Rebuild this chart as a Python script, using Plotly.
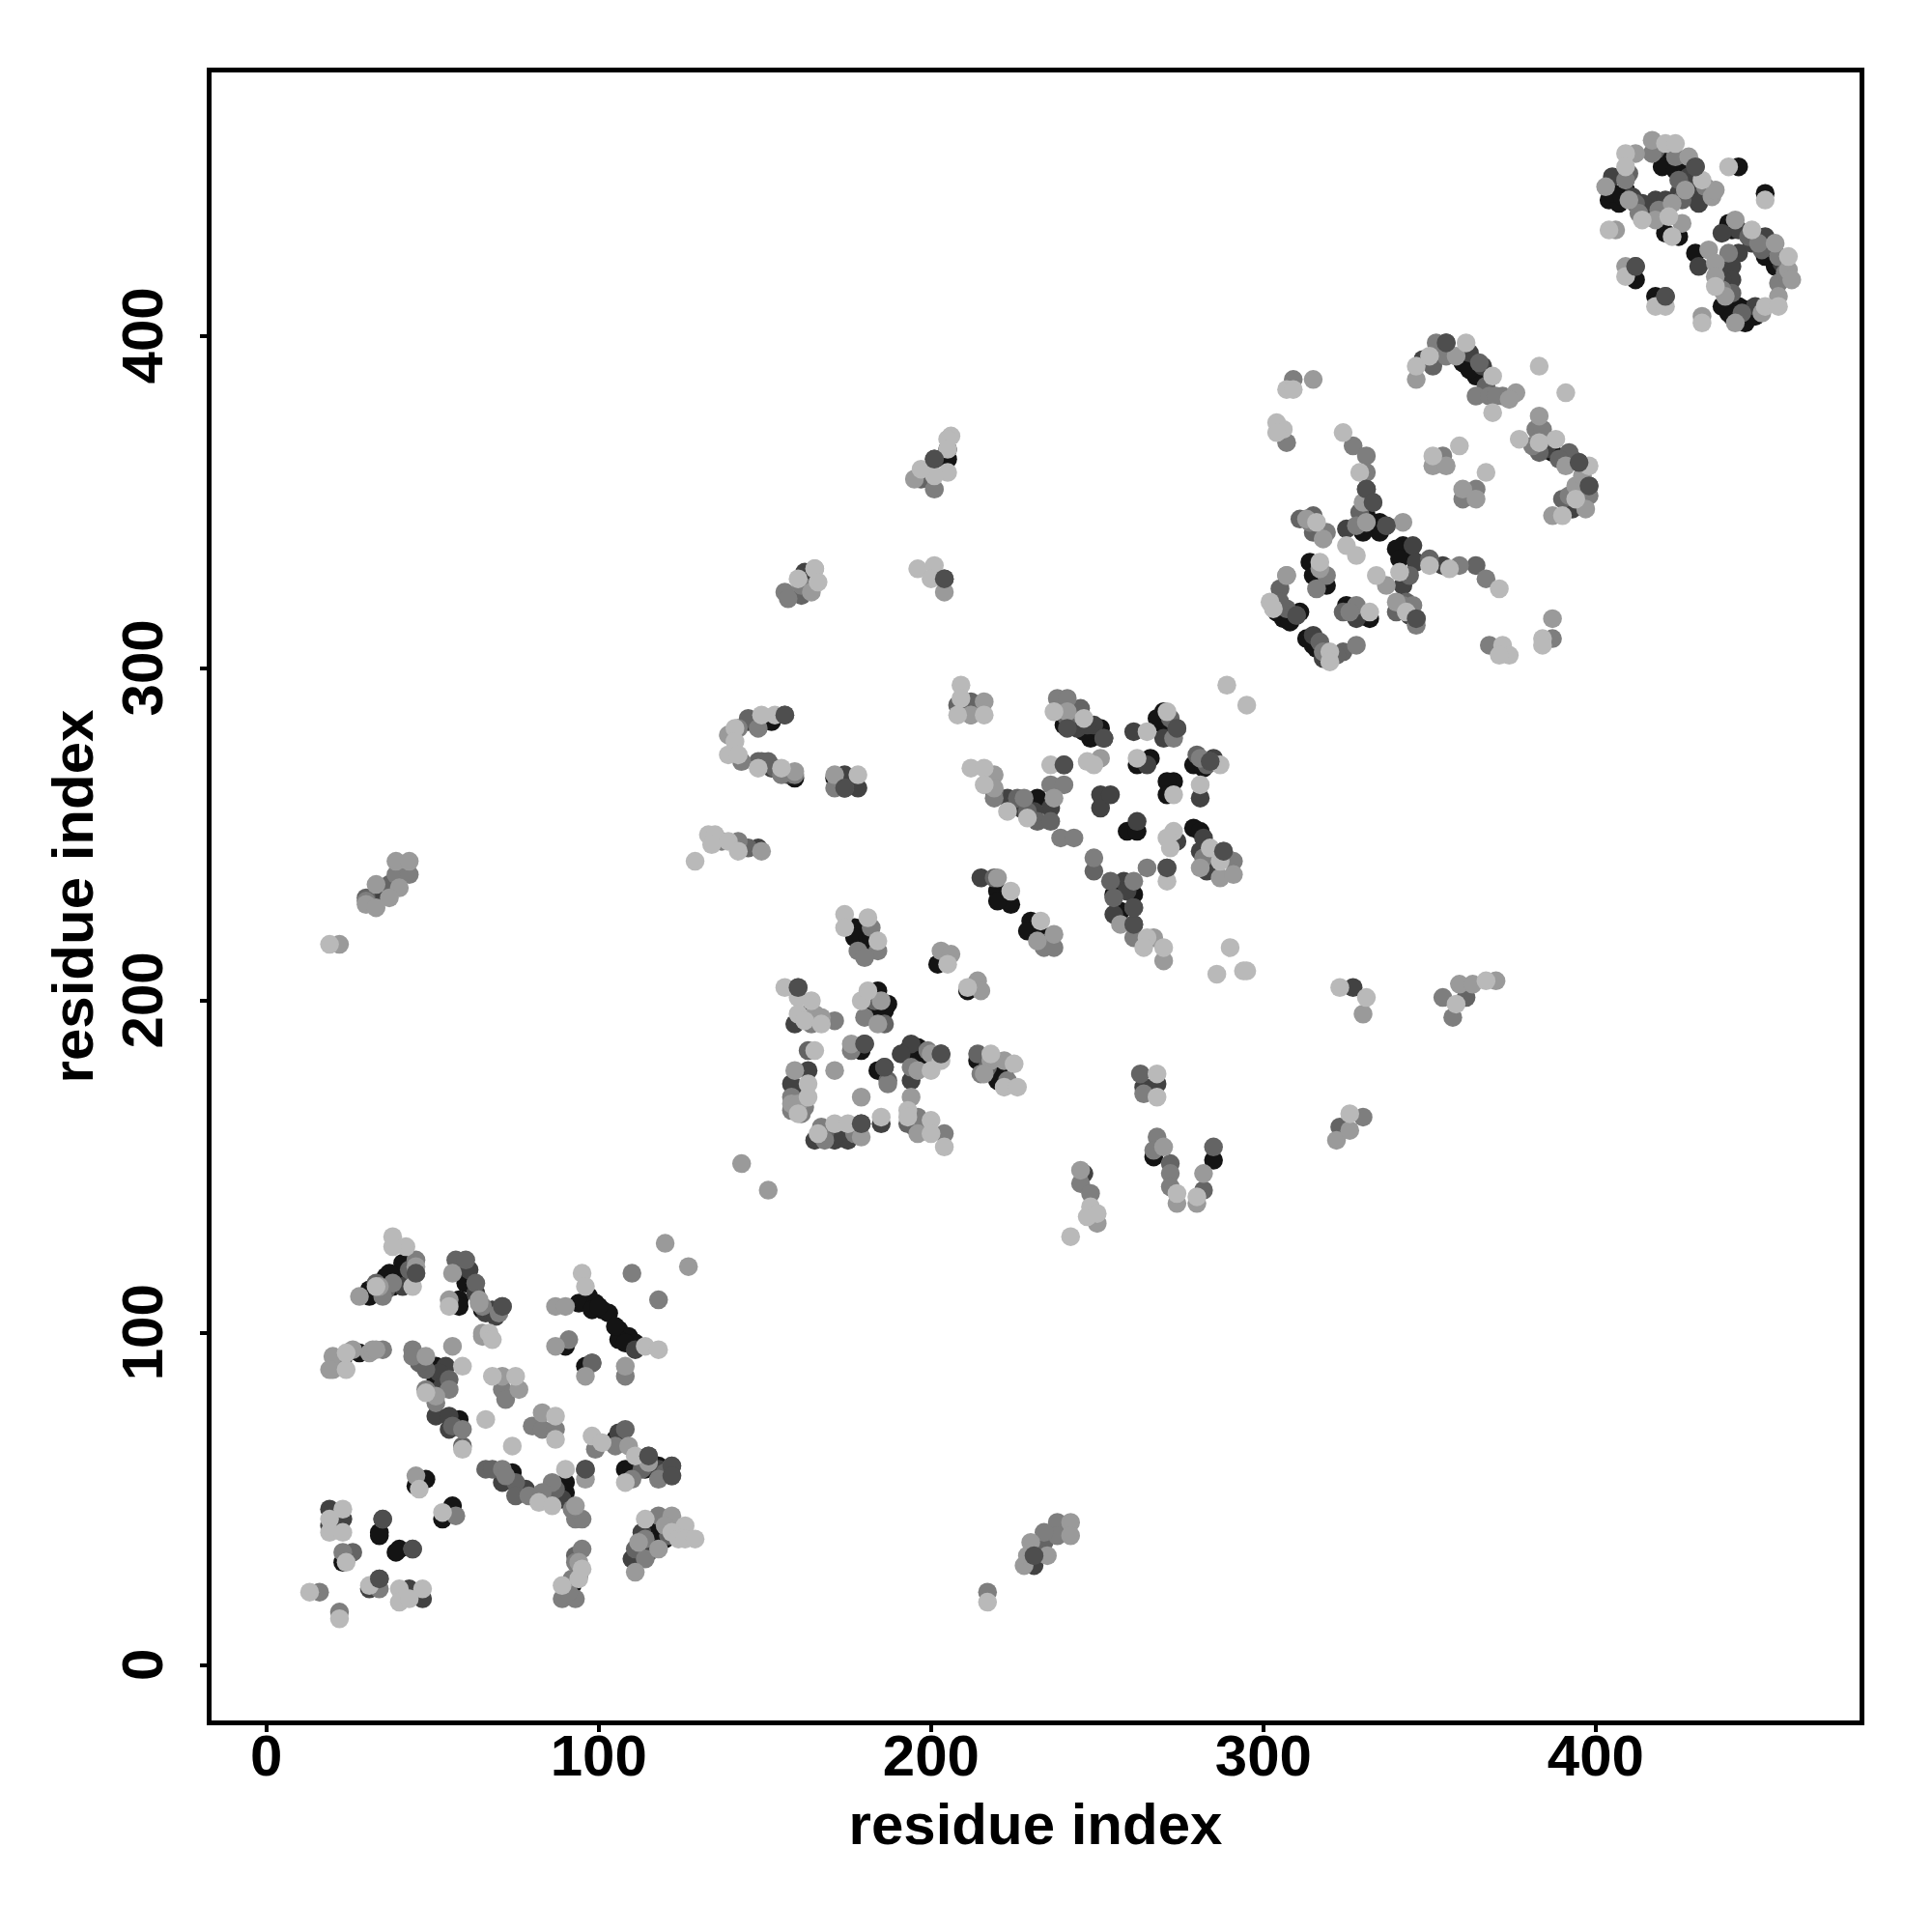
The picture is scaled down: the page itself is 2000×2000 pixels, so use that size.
import plotly.graph_objects as go

# residue-contact points, grouped by grey level: (residue index x, residue index y)
black = [(41,121),(40,116),(36,117),(31,113),(31,111),(60,115),(58,110),(58,108),(65,107),(51,90),(51,86),(58,74),(28,94),
 (85,51),(90,55),(90,52),(74,58),(108,59),(110,59),(105,68),(114,59),(118,60),(118,41),(116,40),(120,38),(113,35),(92,24),(94,27),
 (48,56),(45,54),(56,48),(53,44),(23,31),(34,40),(34,39),(40,35),(39,34),(97,111),(94,109),(99,109),(101,107),(98,107),(106,101),(109,99),(106,98),(111,97),(90,96),(96,90),
 (177,222),(177,219),(181,215),(181,219),(202,211),(211,203),(179,185),(184,179),(184,203),(183,198),(186,197),(185,195),(196,186),(193,185),(214,182),(218,179),(222,178),
 (220,233),(224,229),(220,230),(230,224),(229,221),(233,220),(240,283),(251,282),(248,279),(270,287),(270,283),(262,271),(266,273),(273,266),(271,266),(271,262),(279,271),
 (259,251),(262,251),(279,252),(281,251),(232,261),(261,232),(257,227),(267,153),(285,152),
 (335,344),(333,343),(335,341),(314,332),(315,328),(319,325),(304,317),(306,315),(325,319),(332,315),(315,307),(342,337),(344,335),(342,334),(360,392),(364,388),(387,365),
 (404,444),(404,441),(409,444),(407,440),(420,454),(420,451),(424,450),(432,442),(421,431),(425,430),(412,417),(418,412),(440,434),(451,424),(454,421),(430,425),(438,409),(440,407),(443,409),(445,404),(448,406),(443,451),(451,443),
 (205,366),(205,363),(152,284),(171,267),(159,267),(34,112),(38,114),(37,118),(103,106),(100,108),(105,102),(108,97),(117,37),(115,42),(182,196),(187,199),(194,183),(198,183),(220,176),(182,219),
 (243,284),(246,281),(268,285),(282,270),(255,232),(257,234),(311,317),(303,319),(308,314),(313,309),(316,306),(340,336),(341,333),(331,346),(330,341),(362,390),(405,443),(408,442),(427,450),(426,445),(441,432),(452,426),(439,413),(441,406),(445,408)]

dark = [(23,92),(41,114),(61,119),(50,82),(54,90),(51,75),(55,75),(55,71),(71,55),(68,107),(71,108),(118,59),(113,40),(110,32),(23,44),(19,47),(19,42),(34,26),(31,23),(47,20),(43,23),(111,95),(98,91),
 (163,196),(180,187),(163,179),(158,175),(186,180),(194,187),(203,184),(194,176),(171,158),(175,158),(179,163),(185,163),(195,162),(264,174),(268,175),
 (246,148),(204,327),(145,284),(157,268),(178,264),(33,231),(327,204),
 (249,283),(244,282),(252,279),(261,281),(265,271),(281,261),(251,262),(251,258),(254,262),(262,254),(274,248),(282,249),(283,239),(223,261),(236,258),(258,236),(261,223),(215,237),
 (325,342),(337,343),(331,354),(310,316),(328,315),(315,310),(354,331),(342,325),(346,315),(355,398),(348,393),(362,395),(395,362),(398,355),(393,348),
 (405,448),(430,451),(425,443),(430,443),(431,440),(415,439),(418,441),(421,441),(412,421),(421,412),(443,432),(451,430),(443,425),(431,421),(441,421),(441,417),(438,417),(448,409),
 (201,363),(162,329),(147,284),(152,270),(174,268),(174,264),(148,246),(33,230),(231,33),(231,30),(52,88),(53,84),(63,112),(66,106),(69,105),(78,53),(89,50),(115,34),(113,37),(106,70),(159,193),(191,184),(161,171),(165,158),(172,160),
 (247,283),(270,279),(285,273),(284,244),(281,245),(227,258),(231,257),(255,226),(259,233),(313,345),(318,303),(345,337),(346,332),(344,316),(351,392),(366,391),(385,366),(393,363),(395,350),(411,442),(414,440),(428,448),(438,431),(447,428),(456,422),(437,420)]

dark_mid = [(57,122),(60,122),(63,115),(36,113),(48,89),(55,86),(59,66),(66,59),(75,55),(75,51),(96,59),(108,71),(115,63),(122,60),(122,57),(26,34),(35,44),(44,35),(111,35),(98,91),
 (163,185),(187,176),(214,184),(219,237),
 (245,288),(272,285),(274,282),(280,274),(284,272),(288,245),(229,257),(232,254),(236,254),(240,271),(254,236),(271,240),(261,228),(249,239),(263,178),(285,156),(282,143),
 (156,286),(149,272),(153,270),(174,264),(231,34),(361,201),(323,162),
 (315,346),(315,341),(333,350),(305,324),(307,318),(324,317),(317,308),(324,305),(350,333),(364,331),(344,328),(340,317),(351,391),(365,392),(383,365),(392,365),(390,351),
 (412,440),(425,447),(441,413),(444,407),(272,151),(418,456),
 (197,357),(161,322),(145,285),(148,272),(151,272),(212,290),(208,289),(145,246),(37,235),(30,231),(234,37),(43,119),(33,115),(46,91),(56,72),(68,59),(87,53),(113,59),(120,58),(121,39),(93,33),(186,193),(183,200),(168,160),(193,163),(217,180),
 (241,285),(283,271),(288,243),(219,263),(226,261),(255,231),(311,345),(316,342),(305,320),(322,304),(329,347),(343,320),(367,385),(389,363),(396,356),(410,449),(426,441),(450,426),(446,430)]

mid = [(45,122),(45,118),(35,111),(44,95),(44,93),(48,83),(55,83),(51,79),(59,71),(71,59),(79,51),(86,55),(93,44),(95,44),(114,32),(118,56),(110,56),(71,83),(72,80),(80,72),(83,71),(87,71),(99,65),(95,35),(93,31),(89,20),(93,20),(57,45),(23,34),(34,23),(110,118),(118,110),(91,98),(108,87),(35,95),(16,22),(22,16),(118,45),
 (160,204),(171,194),(180,195),(158,171),(162,168),(168,158),(161,166),(176,185),(187,175),(194,180),(199,185),(196,165),(204,160),(178,215),(184,215),(215,178),(167,162),(234,216),(182,222),
 (212,286),(238,291),(241,291),(319,341),(273,279),(281,273),(282,243),(291,242),(219,261),(228,261),(236,265),(240,265),(239,249),(243,249),(249,243),(261,236),(265,240),(261,219),(264,172),(237,216),(268,159),(267,155),(272,148),(272,144),(245,145),(248,142),
 (142,282),(143,272),(159,268),(171,264),(30,230),(39,238),(43,238),(217,22),(238,43),(238,39),(234,40),(354,201),(357,195),(330,165),(201,354),(161,325),(156,323),(157,321),(148,282),(155,268),(137,248),(142,248),(22,92),(38,115),(65,108),(70,106),(72,57),(83,52),(92,47),(114,38),(92,26),(91,22),(105,66),(164,193),(158,167),(177,160),(198,162),(180,213),(223,176),
 (309,387),(307,368),(327,367),(331,364),(331,359),(328,343),(319,328),(316,324),(307,328),(328,319),(318,305),(328,307),(342,319),(346,313),(359,331),(367,327),(368,307),(387,309),(352,398),(355,394),(364,382),(368,382),(372,382),(354,364),(364,354),(360,351),(382,372),(398,352),
 (417,455),(424,454),(409,447),(440,425),(449,428),(455,416),(314,344),(326,317),(345,319),(370,382),(384,372),(381,367),(392,352),(413,437),(419,438),(433,445),(455,424),(457,419),(438,414)]

mid_light = [(28,111),(56,118),(55,110),(64,110),(65,100),(20,93),(20,89),(31,94),(32,95),(48,93),(56,96),(71,87),(76,83),(83,76),(87,96),(87,108),(90,108),(108,90),(96,87),(120,127),(127,120),(45,57),(94,31),(109,66),(122,45),(118,35),(111,28),(93,48),(96,56),(65,99),(19,89),
 (143,151),(151,143),(165,196),(185,200),(176,187),(159,179),(171,179),(179,171),(158,169),(179,159),(196,179),(194,171),(196,160),(203,215),(206,214),(214,206),(215,203),(218,182),(222,182),(220,237),(237,220),
 (241,287),(251,273),(287,237),(291,238),(281,240),(219,268),(219,264),(237,261),(257,223),(267,219),(270,212),(250,133),(245,149),(270,156),(274,139),(280,139),(282,148),
 (195,357),(204,323),(165,330),(164,323),(139,280),(149,245),(159,269),(171,268),(212,286),(216,290),(39,242),(43,242),(40,234),(33,235),(37,231),(30,229),(33,228),(22,217),(242,43),(242,39),(235,33),(230,37),(228,30),(229,33),(330,196),(359,205),(363,205),(370,206),(322,158),(326,161),(34,114),(45,120),(64,109),(51,81),(33,95),(26,95),(115,61),(120,42),(112,37),(184,193),(167,195),(160,169),(200,184),(216,178),(232,218),
 (315,387),(313,345),(331,344),(307,328),(337,325),(340,320),(342,344),(346,387),(376,383),(351,361),(355,361),(360,354),(364,351),(383,376),(391,361),(394,355),(397,348),(387,346),(387,315),
 (417,459),(412,455),(403,445),(410,441),(428,454),(435,442),(418,435),(426,434),(406,432),(409,421),(442,435),(454,428),(458,420),(459,417),(434,426),(436,422),(436,418),(439,412),(442,404),(455,412),(432,406),(318,339),(317,330),(330,350),(358,394),(374,381),(396,358),(427,444),(423,440),(436,444),(450,407)]

light = [(38,129),(42,126),(38,126),(44,114),(33,114),(55,108),(67,100),(68,98),(24,89),(24,94),(48,82),(59,90),(59,65),(68,87),(75,87),(66,74),(74,66),(87,75),(87,68),(98,69),(101,67),(111,63),(108,55),(90,59),(82,49),(86,48),(114,44),(126,42),(122,40),(124,38),(126,38),(129,38),(94,26),(95,29),(89,24),(46,53),(53,46),(23,47),(19,44),(19,40),(23,40),(24,31),(31,24),(40,23),(47,23),(40,19),(43,20),(13,22),(22,14),(95,118),(96,114),(114,96),(118,95),
 (156,204),(160,201),(164,200),(160,196),(162,194),(167,193),(179,200),(181,203),(174,226),(181,225),(174,222),(184,218),(205,211),(211,204),(165,185),(163,175),(163,171),(160,166),(166,160),(171,163),(175,163),(185,165),(193,167),(193,165),(200,164),(200,160),(200,179),(203,182),(204,156),(218,184),(225,181),(222,174),(226,174),(224,233),(233,224),
 (216,286),(237,287),(246,285),(247,272),(249,271),(265,281),(271,287),(262,273),(273,262),(281,265),(287,271),(289,295),(295,289),(273,251),(271,249),(272,246),(284,246),(287,242),
 (212,270),(216,270),(216,265),(223,257),(229,255),(236,271),(271,236),(265,219),(270,216),(264,216),(286,208),(294,209),(295,209),(290,216),(268,178),(268,171),(274,142),(280,141),(248,138),(247,135),(250,136),(242,129),
 (206,370),(205,369),(205,366),(205,359),(201,358),(197,360),(196,330),(201,331),(200,327),(165,330),(166,326),(160,327),(153,286),(149,286),(141,282),(141,278),(139,274),(142,274),(148,270),(155,270),(178,268),(129,242),(133,250),(135,250),(134,247),(139,248),(142,245),(209,295),(209,291),(208,286),(19,217),(217,19),(323,204),(331,201),(358,199),(367,206),(326,166),
 (307,384),(309,384),(304,374),(306,372),(304,371),(324,371),(329,359),(316,344),(325,337),(328,334),(317,332),(302,320),(303,318),(332,317),(320,305),(320,302),(334,328),(350,331),(356,330),(371,324),(341,329),(343,317),(372,307),(374,304),(371,304),(384,309),(384,307),
 (361,398),(346,391),(350,394),(369,388),(369,377),(383,391),(391,383),(359,367),(351,364),(367,359),(377,369),(383,368),(388,369),(398,361),(394,351),(390,346),
 (421,458),(424,458),(409,455),(409,451),(414,435),(422,436),(423,430),(432,447),(404,432),(409,418),(418,409),(421,409),(432,404),(440,451),(451,441),(447,432),(458,424),(436,415),(451,409),(455,409)]

# dark marks that sit on top of their neighbours
top_dark = [(45,118),(71,108),(115,63),(122,60),(122,57),(35,44),(44,35),(96,59),(34,26),(160,204),(180,187),(186,180),(203,184),(179,163),(252,279),(274,282),(288,245),(240,271),(271,240),(261,223),(261,228),(331,354),(333,350),(337,343),(310,316),(346,315),(355,398),(398,355),(395,362),(412,421),(421,412),(430,451),(284,272),(241,282),(201,363),(204,327),(156,286),(174,264),(231,33)]

x_ticks = [0, 100, 200, 300, 400]
y_ticks = [0, 100, 200, 300, 400]
axis_title = "residue index"

layers = [(black, "#141414"), (dark, "#424242"), (dark_mid, "#646464"), (mid, "#7e7e7e"),
          (mid_light, "#9a9a9a"), (light, "#b9b9b9"), (top_dark, "#4e4e4e")]

fig = go.Figure()
for pts, col in layers:
    fig.add_trace(go.Scatter(x=[p[0] for p in pts], y=[p[1] for p in pts], mode="markers",
                             marker=dict(size=19.5, color=col, line=dict(width=0)),
                             showlegend=False, hoverinfo="skip"))

font = dict(family="Liberation Sans", size=60, color="black", weight="bold")
common = dict(showgrid=False, zeroline=False, showline=True, mirror=True, linewidth=5, linecolor="black",
              ticks="outside", ticklen=7, tickwidth=4, tickcolor="black", tickfont=font)
fig.update_xaxes(range=[-16.5, 479.4], tickvals=x_ticks, ticklabelstandoff=-27,
                 title=dict(text=axis_title, font=font, standoff=18), **common)
# the trailing no-break space centres the rotated labels on their ticks
fig.update_yaxes(range=[-16.6, 479.4], tickvals=y_ticks, ticktext=[f"{v}\u00a0" for v in y_ticks],
                 tickangle=-90, ticklabelstandoff=15,
                 title=dict(text=axis_title, font=font, standoff=0), **common)
fig.update_layout(width=2000, height=2000, margin=dict(l=211, r=83, t=67, b=227, autoexpand=False),
                  paper_bgcolor="white", plot_bgcolor="white")
fig.write_html("out.html")
